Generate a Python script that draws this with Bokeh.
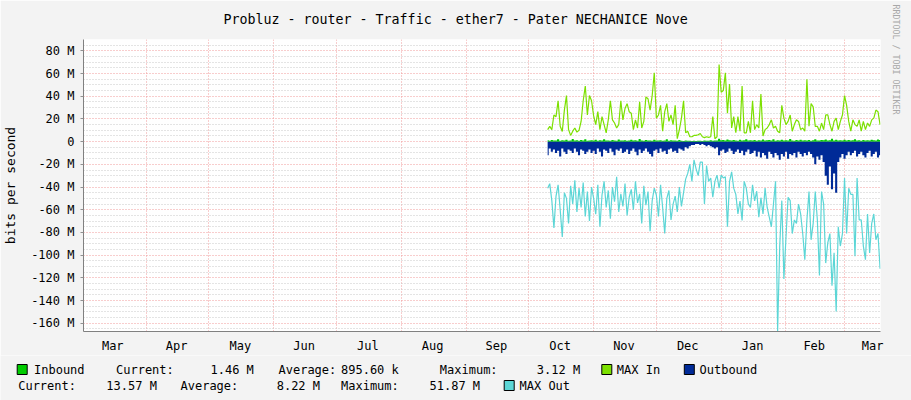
from bokeh.plotting import figure
from bokeh.models import FixedTicker, Range1d, Title
from bokeh.layouts import column
from bokeh.embed import file_html
from bokeh.resources import INLINE
from bokeh.core.properties import value

# ---------------- data (values in M bits/s) ----------------
# x axis: day number counted from 1 March of the first year
month_names = ["Mar", "Apr", "May", "Jun", "Jul", "Aug", "Sep", "Oct", "Nov", "Dec", "Jan", "Feb", "Mar"]
month_starts = [0, 31, 61, 92, 122, 153, 184, 214, 245, 275, 306, 337, 365]
month_lengths = [31, 30, 31, 30, 31, 31, 30, 31, 30, 31, 31, 28, 31]
first_day = 223          # 10 Oct: first day with data
n_days = 160

inbound = [
    1.2, 0.8, 1.5, 0.9, 1.1, 2.1, 0.7, 1.3, 0.9, 1.6,
    0.8, 1.0, 2.4, 0.9, 1.2, 0.7, 1.4, 1.0, 2.0, 0.8,
    1.1, 1.3, 0.9, 1.7, 0.8, 1.2, 1.0, 2.2, 0.9, 1.1,
    0.7, 1.5, 1.0, 0.8, 1.9, 1.1, 0.9, 1.3, 0.8, 1.0,
    1.6, 0.9, 1.2, 0.7, 2.3, 1.0, 0.8, 1.4, 0.9, 1.1,
    0.8, 1.7, 1.0, 0.9, 1.3, 0.7, 1.1, 2.0, 0.8, 1.2,
    0.9, 1.0, 0.7, 1.4, 0.8, 0.6, 0.9, 0.7, 0.8, 0.6,
    0.7, 0.6, 0.8, 0.7, 0.6, 0.9, 0.7, 0.8, 1.2, 0.7,
    0.9, 1.1, 2.6, 1.3, 1.5, 1.0, 1.8, 1.2, 0.9, 1.4,
    1.1, 0.8, 1.6, 1.0, 1.3, 2.2, 0.9, 1.2, 1.0, 1.5,
    0.8, 1.3, 1.1, 1.9, 0.9, 1.2, 1.4, 1.0, 2.1, 0.8,
    1.2, 1.0, 1.6, 0.9, 1.3, 1.1, 2.4, 1.0, 0.8, 1.4,
    1.1, 1.7, 0.9, 1.2, 1.0, 1.5, 0.8, 1.3, 2.0, 1.1,
    0.9, 1.4, 1.2, 1.8, 1.0, 1.3, 2.5, 1.1, 1.6, 0.9,
    1.2, 1.0, 1.7, 0.9, 1.4, 1.1, 1.3, 2.2, 1.0, 1.2,
    0.8, 1.5, 1.1, 1.3, 0.9, 1.6, 1.2, 1.0, 1.8, 1.46,
]
max_in = [
    10.6, 13.5, 10.6, 23.5, 22, 36, 13.5, 9, 27.8, 40.6,
    10.6, 5.5, 9.2, 12, 8.4, 10, 17.8, 36, 49, 23.5,
    40.6, 36, 22.7, 15, 26.4, 10.6, 22, 15, 7.8, 19.2,
    36, 19.2, 16.4, 12, 15, 36, 19.2, 29.2, 33.5, 26.4,
    25, 10.6, 19.2, 12, 35, 12, 17.8, 39.3, 37.8, 27.8,
    40.6, 60.7, 20.7, 23.5, 32, 9.2, 26.4, 33.5, 17.8, 23.5,
    15, 32, 2.6, 10.6, 20.7, 36, 7.8, 9.2, 4.3, 4.3,
    5.5, 5.5, 6.1, 7.2, 4.3, 3.5, 4.3, 3.7, 4.3, 22,
    2.6, 4.3, 67.9, 43.5, 45, 60.7, 25, 50.7, 12.1, 22,
    7.8, 22, 9.2, 49, 7.8, 7.8, 17.8, 7.8, 36, 10.6,
    15, 12, 42, 5, 10.6, 12, 15, 19.2, 12, 13.5,
    9.2, 7.8, 32, 20.7, 15, 17.8, 23.5, 9.2, 15, 19.2,
    17.8, 10.6, 12, 9.2, 55, 13.5, 33.5, 30.7, 13.5, 13.5,
    9.2, 16.4, 10.6, 23.5, 23.5, 15, 9.2, 17.8, 20.7, 10.6,
    17.8, 23.5, 40.6, 32, 17.8, 9.2, 19.2, 15, 13.5, 19.2,
    9.2, 17.8, 10.6, 16.4, 13.5, 19.2, 20.7, 27.8, 26.4, 15,
]
outbound = [
    -12, -6, -9, -7, -10, -8, -13, -6, -9, -11,
    -7, -8, -10, -6, -9, -12, -7, -8, -11, -9,
    -7, -10, -8, -11, -6, -9, -13, -7, -8, -10,
    -6, -9, -12, -7, -8, -6, -10, -9, -7, -11,
    -8, -6, -9, -12, -7, -10, -8, -6, -9, -11,
    -13, -8, -7, -10, -6, -9, -8, -11, -7, -6,
    -9, -8, -10, -6, -7, -8, -5, -6, -4, -3,
    -3, -2, -2, -3, -2, -3, -4, -3, -4, -5,
    -6, -5, -12, -8, -7, -10, -9, -6, -8, -11,
    -9, -7, -10, -8, -12, -9, -7, -11, -10, -8,
    -13, -9, -14, -10, -12, -15, -9, -11, -14, -10,
    -12, -16, -11, -13, -9, -15, -11, -12, -10, -14,
    -9, -11, -13, -10, -12, -9, -11, -14, -20, -13,
    -16, -12, -18, -30, -38, -22, -42, -28, -45, -18,
    -14, -11, -15, -12, -9, -12, -10, -8, -13, -11,
    -9, -12, -14, -10, -8, -13, -11, -9, -14, -12,
]
max_out = [
    -41, -37, -52, -76, -48, -38, -60, -84, -45, -50,
    -72, -39, -55, -34, -62, -41, -58, -36, -66, -44,
    -70, -40, -50, -64, -38, -75, -47, -35, -58, -43,
    -68, -40, -53, -31, -62, -46, -57, -37, -65, -49,
    -42, -60, -35, -54, -46, -72, -39, -56, -44, -79,
    -52, -41, -47, -66, -38, -58, -81, -50, -43, -69,
    -55, -48, -62, -40, -57, -45, -33, -28, -20, -35,
    -16, -24, -30, -18, -18, -55, -21, -35, -32, -49,
    -35, -29.5, -41, -29.5, -32, -31, -75, -35, -26.6, -41,
    -46.5, -63.7, -52.3, -69.4, -35, -41, -55, -58, -38, -52.3,
    -43.7, -66.6, -49.4, -63.7, -41, -58, -66.6, -75, -55, -35,
    -166.8, -92, -52, -121, -84, -49, -52, -81, -69, -72,
    -55, -63.7, -81, -104, -69, -44, -86.5, -72, -44, -69,
    -118, -44, -55, -107, -89, -81, -127, -98, -149.6, -75,
    -92, -81, -32, -81, -41, -46.5, -46.5, -101, -32, -69,
    -69, -92, -104, -63.7, -98, -72, -63.7, -86.5, -81, -112,
]
days = [first_day + k for k in range(n_days)]

y_major = [-160, -140, -120, -100, -80, -60, -40, -20, 0, 20, 40, 60, 80]
y_labels = {v: ("0" if v == 0 else f"{v} M") for v in y_major}

title_text = "Probluz - router - Traffic - ether7 - Pater NECHANICE Nove"
legend_row1 = ["Inbound", "Current:", "1.46 M", "Average:", "895.60 k", "Maximum:", "3.12 M", "MAX In", "Outbound"]
legend_row2 = ["Current:", "13.57 M", "Average:", "8.22 M", "Maximum:", "51.87 M", "MAX Out"]

# ---------------- styles ----------------
MONO = "DejaVu Sans Mono"
BG = "#F3F3F3"
C_IN = "#00CC00"
C_MAXIN = "#7CE000"
C_OUT = "#002A97"
C_MAXOUT = "#5CD6D6"
MAJOR = "#F09A9A"
MINOR = "#C8C8C8"
W = 911

p = figure(width=W, height=355, output_backend="svg", toolbar_location=None,
           x_range=Range1d(1, 382.2), y_range=Range1d(-167.3, 90),
           min_border_left=80, min_border_right=31, min_border_top=38, min_border_bottom=17,
           background_fill_color="white", border_fill_color=BG, outline_line_color=None)

p.title.text = title_text
p.title.align = "left"
p.title.offset = 140
p.title.vertical_align = "top"
p.title.text_font = MONO
p.title.text_font_size = "13.3px"
p.title.text_font_style = "normal"
p.title.text_color = "#000000"
p.title.standoff = 22

p.add_layout(Title(text="RRDTOOL / TOBI OETIKER", align="left", offset=-35, vertical_align="top",
                   text_font=MONO, text_font_size="8.3px", text_font_style="normal",
                   text_color="#A8A8A8", standoff=17), "right")

# x axis: labels mid-month, grid at month starts
label_pos = [s + l / 2 - 0.5 for s, l in zip(month_starts, month_lengths)]
label_pos[-1] = 378.4
p.xaxis.ticker = FixedTicker(ticks=label_pos, minor_ticks=[])
p.xaxis.major_label_overrides = {pos: name for pos, name in zip(label_pos, month_names)}
p.xgrid.ticker = FixedTicker(ticks=month_starts[1:], minor_ticks=[])

y_minor = [v for v in range(-165, 91, 5) if v % 20 != 0]
p.yaxis.ticker = FixedTicker(ticks=y_major, minor_ticks=y_minor)
p.yaxis.major_label_overrides = y_labels
p.yaxis.axis_label = "bits per second"

for ax in (p.xaxis[0], p.yaxis[0]):
    ax.major_label_text_font = MONO
    ax.major_label_text_font_size = "12px"
    ax.major_label_text_color = "#000000"
    ax.axis_line_color = "#808080"
    ax.minor_tick_line_color = None
    ax.major_tick_in = 0
p.xaxis.major_tick_line_color = None
p.xaxis.major_label_standoff = 1
p.yaxis.major_tick_out = 3
p.yaxis.major_tick_line_color = "#909090"
p.yaxis.major_label_standoff = 5
p.yaxis.axis_label_text_font = MONO
p.yaxis.axis_label_text_font_size = "13px"
p.yaxis.axis_label_text_font_style = "normal"
p.yaxis.axis_label_text_color = "#000000"
p.yaxis.axis_label_standoff = 10

for g in (p.xgrid[0], p.ygrid[0]):
    g.grid_line_color = MAJOR
    g.grid_line_dash = "1 2"
    g.grid_line_width = 1
p.ygrid.minor_grid_line_color = MINOR
p.ygrid.minor_grid_line_dash = "1 2"

# data
p.varea_step(x=days, y1=[0] * n_days, y2=inbound, step_mode="center", fill_color=C_IN)
p.line(days, max_in, line_color=C_MAXIN, line_width=1.2)
p.varea_step(x=days, y1=[0] * n_days, y2=outbound, step_mode="center", fill_color=C_OUT)
p.line(days, max_out, line_color=C_MAXOUT, line_width=1.2)

# ---------------- legend (pixel coordinates) ----------------
LH = 45
lg = figure(width=W, height=LH, output_backend="svg", toolbar_location=None,
            x_range=Range1d(0, W), y_range=Range1d(LH, 0),
            x_axis_location=None, y_axis_location=None, min_border=0,
            background_fill_color=BG, border_fill_color=BG, outline_line_color=None)
lg.grid.visible = False

for fig in (p, lg):
    if "frame_align" in fig.properties():
        fig.frame_align = False

row1_x = [33.5, 115.5, 210, 278, 340.5, 439.3, 536.3, 616.3, 699]
row2_x = [17.7, 105.8, 180, 276.2, 340.5, 429, 519]
lg.text(x=row1_x, y=[14] * len(row1_x), text=legend_row1, text_font=value(MONO),
        text_font_size="12px", text_baseline="middle", text_align="left", text_color="#000000")
lg.text(x=row2_x, y=[30] * len(row2_x), text=legend_row2, text_font=value(MONO),
        text_font_size="12px", text_baseline="middle", text_align="left", text_color="#000000")
lg.rect(x=[21.7, 606.3, 688.8, 508.7], y=[14, 14, 14, 30], width=10, height=10,
        fill_color=[C_IN, C_MAXIN, C_OUT, C_MAXOUT], line_color="#000000", line_width=1)

layout = column(p, lg, spacing=0)
open("out.html", "w").write(file_html(layout, INLINE))
